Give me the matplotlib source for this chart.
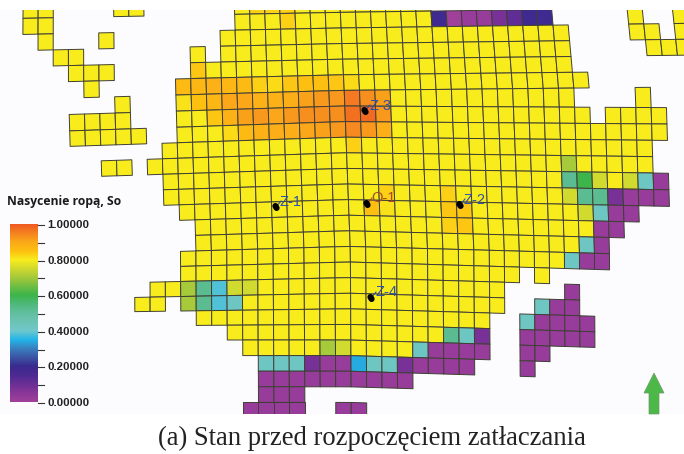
import numpy as np
import matplotlib
matplotlib.use("Agg")
import matplotlib.pyplot as plt
from matplotlib.collections import PolyCollection
from matplotlib.colors import LinearSegmentedColormap
from matplotlib.patches import Polygon, Rectangle

# colour scale
scale_values = [0, .05, .1, .15, .2, .25, .3, .35, .4, .45, .5, .55, .6, .65, .7, .75, .8, .85, .9, .95, 1]
scale_colors = ['#A0409B', '#8A3699', '#6A2F96', '#4B2A92', '#3A2A8F', '#3A55A4', '#3A7FBF', '#22B5E8',
                '#6FC8CC', '#6CC4B4', '#62BFA0', '#4FB97A', '#3DB54A', '#6EBE44', '#A5C93A', '#CFD92F',
                '#F9EC1D', '#FDC010', '#FBA919', '#F58220', '#F05A22']
tick_values = [1.0, 0.9, 0.8, 0.7, 0.6, 0.5, 0.4, 0.3, 0.2, 0.1, 0.0]
tick_labels = ['1.00000', '', '0.80000', '', '0.60000', '', '0.40000', '', '0.20000', '', '0.00000']

# cell codes -> oil saturation
codes = {'m': 0.0, 'p': 0.02, 'v': 0.08, 'w': 0.12, 'd': 0.19, 'b': 0.34, 'c': 0.38, 't': 0.42,
         'g': 0.52, 'G': 0.6, 'l': 0.7, 'k': 0.75, 'y': 0.8}

# runs of cells: grid row, first grid column, one code per cell
seg_row = [-2, -2, -2,
           -1, -1, -1, -1, -1,
           0, 0, 0, 0, 0,
           1, 1, 1, 1,
           2, 2,
           3, 3,
           4, 4, 4,
           5, 5, 5,
           6, 6,
           7,
           8, 8,
           9,
           10,
           11,
           12,
           13,
           14,
           15, 15,
           16, 16, 16,
           17, 17, 17,
           18, 18,
           19, 19,
           20, 20,
           21, 21,
           22,
           23,
           24, 24]
seg_col = [-10, -4, 4,
           -10, 4, 17, 30, 33,
           -9, -5, 3, 30, 33,
           -8, 1, 3, 31,
           -7, 1,
           -6, 0,
           -4, 0, 30,
           -7, 0, 28,
           -7, 0,
           -1,
           -5, -2,
           -1,
           -1,
           0,
           1,
           1,
           0,
           0, 23,
           -2, 0, 25,
           -3, 0, 23,
           1, 22,
           3, 22,
           4, 22,
           5, 22,
           5,
           5,
           4, 10]
seg_code = ['yy', 'yy', 'y' * 13,
            'yy', 'y' * 13, 'dmppvwdd', 'y', 'y',
            'y', 'y', 'y' * 23, 'yy', 'y',
            'yy', 'y', 'y' * 23, 'yyy',
            'yyy', 'y' * 25,
            'y', 'y' * 27,
            'y', 'y' * 26, 'y',
            'yyyy', 'y' * 27, 'yyyy',
            'yyyyy', 'y' * 32,
            'y' * 32,
            'yy', 'y' * 27 + 'l' + 'y' * 5,
            'y' * 26 + 'gGkyktp',
            'y' * 26 + 'kggvppp',
            'y' * 26 + 'ktpp',
            'y' * 26 + 'pp',
            'y' * 25 + 'tp',
            'y' * 25 + 'tpp',
            'y' * 22, 'y',
            'yy', 'lgckk' + 'y' * 16, 'p',
            'yy', 'lgct' + 'y' * 17, 'tpp',
            'y' * 19, 'tpppp',
            'y' * 14 + 'gtv', 'ppppp',
            'y' * 5 + 'lk' + 'yyyy' + 't' + 'pppp', 'pp',
            'tttvppbttvpppp', 'p',
            'p' * 10,
            'ppp',
            'pppp', 'pp']

# warmer cells around the wells and in the orange band
hot_row = [-2, -2, -2, -1, 2,
           3, 3, 3, 3, 3, 3, 3, 3, 3, 3, 3, 3,
           4, 4, 4, 4, 4, 4, 4, 4, 4, 4, 4, 4, 4, 4,
           5, 5, 5, 5, 5, 5, 5, 5, 5, 5, 5, 5,
           6, 6, 6, 6, 6, 6, 6, 6, 6, 6, 6,
           7, 10, 11, 11, 10, 11, 11, 12, 12]
hot_col = [5, 6, 7, 7, 1,
           0, 1, 2, 3, 4, 5, 6, 7, 8, 9, 10, 11,
           0, 1, 2, 3, 4, 5, 6, 7, 8, 9, 10, 11, 12, 13,
           2, 3, 4, 5, 6, 7, 8, 9, 10, 11, 12, 13,
           3, 4, 5, 6, 7, 8, 9, 10, 11, 12, 13,
           11, 13, 12, 13, 17, 17, 18, 17, 18]
hot_val = [.83, .83, .83, .83, .84,
           .86, .87, .88, .87, .86, .83, .82, .84, .85, .85, .84, .82,
           .81, .85, .87, .90, .90, .88, .88, .89, .91, .92, .92, .96, .93, .91,
           .84, .88, .91, .92, .90, .92, .93, .93, .93, .97, .98, .92,
           .82, .86, .88, .89, .89, .90, .91, .92, .94, .92, .89,
           .83, .83, .85, .81, .83, .84, .84, .83, .84]

well_names = ['Z-1', 'Z-2', 'Z-3', 'Z-4', 'O-1']
well_x = [276, 460, 365, 371, 367]
well_y = [207, 205, 111, 298, 204]
well_colors = ['#2F50A8', '#2F50A8', '#2F50A8', '#2F50A8', '#A8492A']


def grid_point(u, v):
    # the grid is slightly bent, rows fan out to both sides of x=342
    bx = 175.7 + 15.32 * u
    yc = 28 + 15.6 * v
    dx = bx - 342
    if dx < 0:
        s = np.interp(v, [-2, 3, 6, 14, 17, 20], [-.017, -.025, -.034, -.03, -.02, 0])
    else:
        s = np.interp(v, [-1, 4, 5, 7, 9, 11, 15], [-.014, -.01, .005, .01, .015, .021, .03])
    y = yc + s * dx
    if y < 90:
        shift = (y - 90) * (0.02 + 0.07 * u / 26)
    else:
        shift = np.interp(y, [90, 250, 400], [0, 4.8, 5.5]) * np.interp(u, [0, 20, 28], [1, 1.5, 1])
    return bx + shift, y


cmap = LinearSegmentedColormap.from_list('so', list(zip(scale_values, scale_colors)))

hot = {(r, c): val for r, c, val in zip(hot_row, hot_col, hot_val)}
polys = []
vals = []
for r, c0, text in zip(seg_row, seg_col, seg_code):
    for k, code in enumerate(text):
        c = c0 + k
        polys.append([grid_point(c, r), grid_point(c + 1, r), grid_point(c + 1, r + 1), grid_point(c, r + 1)])
        vals.append(hot.get((r, c), codes[code]))

fig = plt.figure(figsize=(6.84, 4.54), dpi=100)
ax = fig.add_axes([0, 0, 1, 1])
ax.axis('off')

panel = Rectangle((0, 10), 684, 404, facecolor='#FCFCFE', edgecolor='none', zorder=0)
ax.add_patch(panel)

cells = PolyCollection(polys, array=np.array(vals), cmap=cmap, edgecolors='#3F3F34', linewidths=0.7, zorder=1)
cells.set_clim(0, 1)
ax.add_collection(cells)
cells.set_clip_path(panel)

# legend
ax.text(7, 202, 'Nasycenie ropą, So', family='Open Sans', weight='bold', fontsize=8.7, color='#1a1a1a', va='center')
grad = np.linspace(1, 0, 256).reshape(-1, 1)
ax.imshow(grad, cmap=cmap, vmin=0, vmax=1, extent=[10, 38, 402, 224], aspect='auto', zorder=2)
for val, lab in zip(tick_values, tick_labels):
    ty = 403 - val * 178
    ax.plot([38, 44], [ty, ty], color='#333333', lw=0.8, zorder=2)
    if lab:
        ax.text(47, ty, lab, family='Liberation Sans', weight='bold', fontsize=8.2, color='#222222', va='center')

# wells
for name, x, y, col in zip(well_names, well_x, well_y, well_colors):
    ax.plot([x, x + 5], [y, y - 6], color=col, lw=0.8, zorder=3)
    ax.plot([x - 0.6, x + 0.6], [y - 1, y + 1], color='black', lw=4.4, solid_capstyle='round', zorder=4)
    ax.text(x + 4, y - 5.5, name, family='Liberation Sans', fontsize=10.5, color=col, va='center', zorder=5)

# north arrow
ax.add_patch(Polygon([(654, 373), (664, 393), (659, 393), (659, 414), (649, 414), (649, 393), (644, 393)],
                     closed=True, facecolor='#4CB848', edgecolor='#6f9a6a', lw=0.5, zorder=3))

ax.text(371.5, 438, '(a) Stan przed rozpoczęciem zatłaczania', family='Liberation Serif', fontsize=19.2,
        color='#222222', ha='center', va='center')

ax.set_xlim(0, 684)
ax.set_ylim(454, 0)
fig.savefig('out.png', dpi=100)
